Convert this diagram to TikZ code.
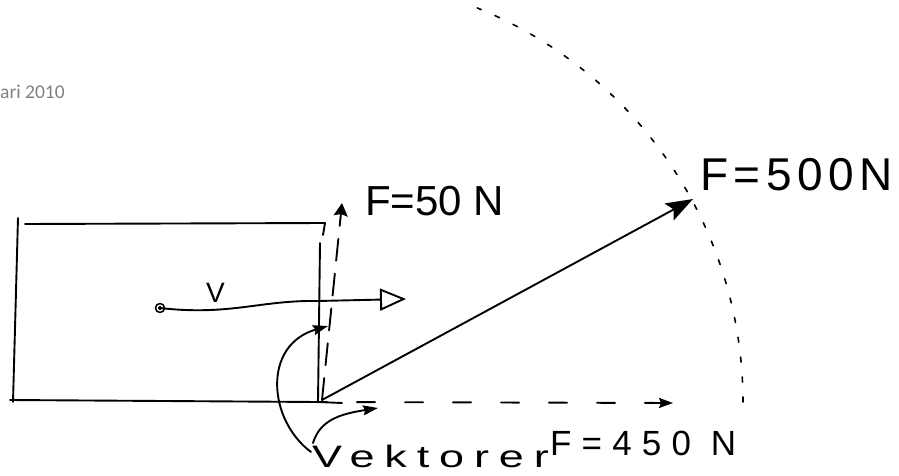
\documentclass[tikz,border=0pt]{standalone}
\usepackage{fontspec}
\setmainfont{Liberation Sans}
\newfontfamily\gfont{Carlito}
\usetikzlibrary{arrows.meta}
\definecolor{datgray}{RGB}{128,128,128}
\begin{document}
\begin{tikzpicture}[x=1pt,y=-1pt,
  ink/.style={line width=1.9pt, line cap=round, line join=round},
  handtext/.style={inner sep=0pt, anchor=base west},
  bighead/.style={-{Stealth[length=27pt,width=19pt,inset=5pt]}},
  upperhead/.style={-{Stealth[length=13pt,width=14pt,inset=2pt]}},
  openhead/.style={-{Triangle[open,length=26pt,width=22pt,line width=1.9pt]}},
  smallhead/.style={-{Stealth[length=15pt,width=10pt,inset=2pt]}},
  tinyhead/.style={-{Stealth[length=14pt,width=10pt,inset=2pt]}}]
\useasboundingbox (0,0) rectangle (899,476);
% key points
\coordinate (O) at (318,402);
\coordinate (Ov) at (322,400);
\coordinate (T50) at (342,203);
\coordinate (T500) at (693,199);
\coordinate (T450) at (673,403);
\coordinate (P) at (160,308);
\coordinate (Vtip) at (406,299);
\coordinate (K1) at (311,452);
\coordinate (K2) at (313,443);
\coordinate (A1) at (328,326);
\coordinate (A2) at (378,408);
% header fragment
\node[handtext, text=datgray, font=\gfont\fontsize{19.5}{19.5}\selectfont] (hdr) at (0,98.5) {ari 2010};
% box
\draw[ink] (25,224) -- (325,223) -- (323,235);
\draw[ink] (18,218) -- (13,402);
\draw[ink] (10,400) -- (O) -- (342,403);
\draw[ink] (320,243) -- (O);
% point and velocity
\draw[ink, line width=1.6pt] (P) circle[radius=4.5pt];
\fill (P) circle[radius=2pt];
\draw[ink, openhead] (P) .. controls (230,316) and (260,300) .. (318,301) -- (Vtip);
\node[handtext, font=\fontsize{28}{28}\selectfont] (vlab) at (206,302) {V};
% component vectors
\draw[ink, dash pattern=on 22pt off 13pt, upperhead] (Ov) -- (T50);
\draw[ink, dash pattern=on 18pt off 30pt, dash phase=9pt, tinyhead] (O) -- (T450);
% resultant
\draw[ink, bighead] (Ov) -- (T500);
% circle arc of radius |F|
\draw[ink, line width=1.6pt, dash pattern=on 5pt off 15pt]
  plot[domain=0:68, samples=80] ({318+425*cos(\x)},{402-425*sin(\x)});
% labels
\node[handtext, font=\fontsize{42}{42}\selectfont] (f50) at (365,215) {F=50 N};
\node[handtext, font=\fontsize{46}{46}\selectfont\addfontfeatures{LetterSpace=12}] (f500) at (700,190) {F=500N};
\node[handtext, font=\fontsize{35}{35}\selectfont\addfontfeatures{LetterSpace=29}] (f450) at (550,455) {F=450 N};
\node[handtext, font=\fontsize{31}{31}\selectfont\addfontfeatures{LetterSpace=22}] (vek) at (312,467) {\scalebox{1.45}[1]{Vektorer}};
% pointers from the word
\draw[ink, smallhead] (K1) .. controls (268,420) and (262,345) .. (A1);
\draw[ink, smallhead] (K2) .. controls (320,420) and (340,414) .. (A2);
\end{tikzpicture}
\end{document}
